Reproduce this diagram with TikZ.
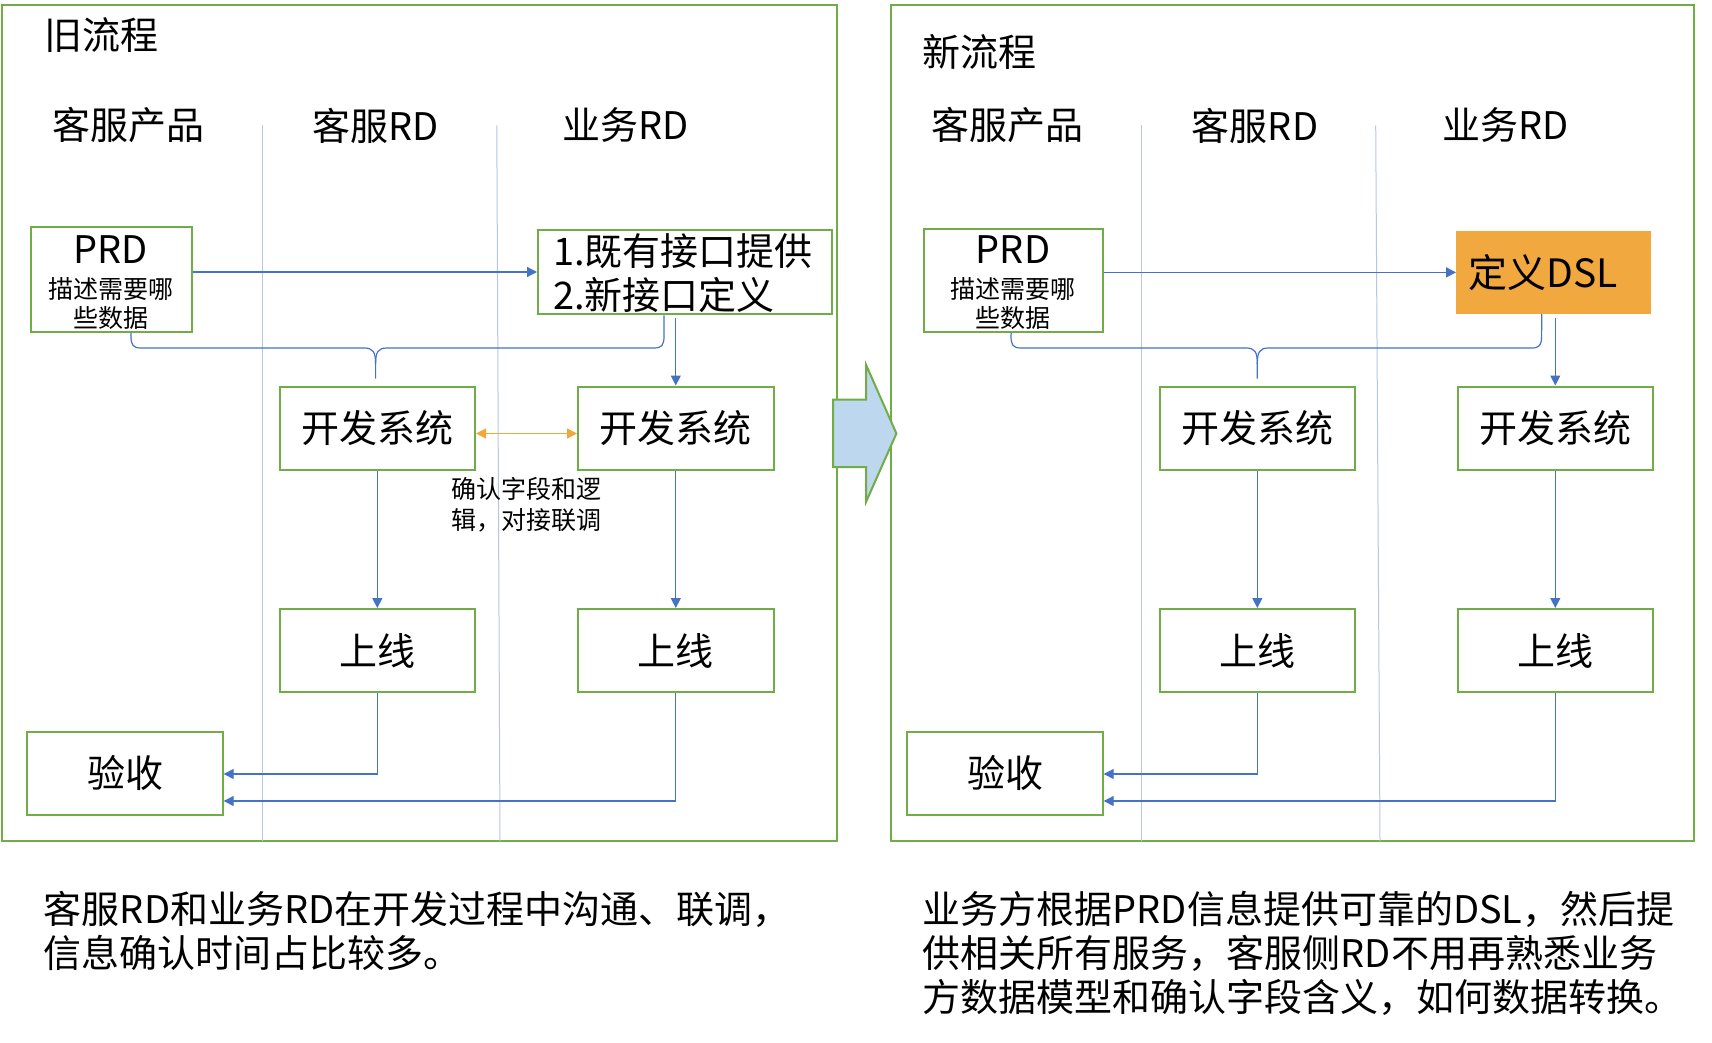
\documentclass[tikz,border=0pt]{standalone}
\usepackage{fontspec}
\setmainfont{Noto Sans CJK SC}
\usetikzlibrary{arrows.meta,calc}
\definecolor{gboxc}{HTML}{70AD47}
\definecolor{connc}{HTML}{4472C4}
\definecolor{lanec}{HTML}{B4C7E7}
\definecolor{orgc}{HTML}{F2A73C}
\definecolor{dslc}{HTML}{F0A83F}
\definecolor{arrfill}{HTML}{BDD7EE}
\newcommand\fsBig{\fontsize{38pt}{44pt}\selectfont}
\newcommand\fsSmall{\fontsize{25pt}{31pt}\selectfont}
\newcommand\fsCap{\fontsize{38pt}{44pt}\selectfont}
\tikzset{
  frame/.style={draw=gboxc,line width=2pt},
  gbox/.style={draw=gboxc,line width=2pt,inner sep=0pt,font=\fsBig},
  dslbox/.style={fill=dslc,draw=dslc,line width=1pt,inner sep=0pt},
  conn/.style={draw=connc,line width=1.2pt,-{Triangle[length=10pt,width=10pt]}},
  plain/.style={draw=connc,line width=1.2pt},
  lane/.style={draw=lanec,line width=1pt},
  txt/.style={inner sep=0pt},
  orgarrow/.style={draw=orgc,line width=1.3pt,{Triangle[length=10pt,width=10pt]}-{Triangle[length=10pt,width=10pt]}},
  bigarrow/.style={fill=arrfill,draw=gboxc,line width=2pt,line join=miter},
}
\begin{document}
\begin{tikzpicture}[x=1pt,y=-1pt]
\fill[white] (0,0) rectangle (1712,1043);
\useasboundingbox (0,0) rectangle (1712,1043);

% ---------- frames ----------
\draw[frame] (1.5,5.5) rectangle (837,841);
\draw[frame] (891,5.5) rectangle (1694,841);

% ---------- lanes ----------
\draw[lane] (262,125.5) -- (262,841);
\draw[lane] (496.8,125.5) -- (500,841);
\draw[lane] (1141,125.5) -- (1141,841);
\draw[lane] (1375.7,125.5) -- (1380,841);

% ---------- titles & headers ----------
\node[txt,font=\fsBig,anchor=west] (tL) at (44,35.5) {旧流程};
\node[txt,font=\fsBig,anchor=west] (tR) at (922,52) {新流程};
\node[txt,font=\fsBig] (hL1) at (128,125.5) {客服产品};
\node[txt,font=\fsBig] (hL2) at (375.6,125.5) {客服RD};
\node[txt,font=\fsBig] (hL3) at (625.6,125.5) {业务RD};
\node[txt,font=\fsBig] (hR1) at (1007,125.5) {客服产品};
\node[txt,font=\fsBig] (hR2) at (1255,125.5) {客服RD};
\node[txt,font=\fsBig] (hR3) at (1505.6,125.5) {业务RD};

% ---------- left panel nodes ----------
\node[gbox,minimum width=161.6pt,minimum height=105pt] (PRDL) at (111.4,279.5) {};
\node[txt,font=\fsBig] (PRDLa) at (110.5,250) {PRD};
\node[txt,font=\fsSmall] (PRDLb) at (111.4,289) {描述需要哪};
\node[txt,font=\fsSmall] (PRDLc) at (111.4,318) {些数据};

\node[gbox,minimum width=294pt,minimum height=84.5pt] (BoxA) at (685,272) {};
\node[txt,font=\fsBig,anchor=west] (BoxAa) at (553,251) {1.既有接口提供};
\node[txt,font=\fsBig,anchor=west] (BoxAb) at (553,295) {2.新接口定义};

\node[gbox,minimum width=195.5pt,minimum height=83pt] (DevL) at (377.3,428) {开发系统};
\node[gbox,minimum width=195.5pt,minimum height=83pt] (DevR) at (675.8,428) {开发系统};
\node[gbox,minimum width=195.5pt,minimum height=83pt] (UpL) at (377.3,650.5) {上线};
\node[gbox,minimum width=195.5pt,minimum height=83pt] (UpR) at (675.8,650.5) {上线};
\node[gbox,minimum width=195.4pt,minimum height=83pt] (YsL) at (125,773) {验收};

\node[txt,font=\fsSmall,anchor=north west,align=left] (noteL) at (451,477.5) {确认字段和逻\\辑，对接联调};

% ---------- left panel connectors ----------
\draw[conn] (PRDL.east |- BoxA.west) -- (BoxA.west);
\draw[plain] ([xshift=19.6pt]PRDL.south) -- (131,336) .. controls (131,345) and (133,348) .. (141,348)
  -- (364,348) .. controls (373,348) and (375.6,352) .. (375.6,364) -- ([yshift=7pt]DevL.north -| 375.6,0);
\draw[plain] ([xshift=-21pt]BoxA.south) -- (664,336) .. controls (664,345) and (662,348) .. (654,348)
  -- (387,348) .. controls (378,348) and (375.6,352) .. (375.6,364);
\draw[conn] ([yshift=-3pt]BoxA.south -| DevR.north) -- (DevR.north);
\draw[orgarrow] ($(DevL.east)+(0,5.5)$) -- ($(DevR.west)+(0,5.5)$);
\draw[conn] (DevL.south) -- (UpL.north);
\draw[conn] (DevR.south) -- (UpR.north);
\draw[conn] (UpL.south) |- ($(YsL.east)+(0,1)$);
\draw[conn] (UpR.south) |- ($(YsL.east)+(0,28)$);

% ---------- middle arrow ----------
\draw[bigarrow] (833,399.6) -- (866,399.6) -- (866,364.7) -- (896.4,433.5) -- (866,502) -- (866,467) -- (833,467) -- cycle;

% ---------- right panel nodes ----------
\node[gbox,minimum width=179pt,minimum height=103pt] (PRDR) at (1013.2,280.5) {};
\node[txt,font=\fsBig] (PRDRa) at (1013,250) {PRD};
\node[txt,font=\fsSmall] (PRDRb) at (1013.2,289) {描述需要哪};
\node[txt,font=\fsSmall] (PRDRc) at (1013.2,318) {些数据};

\node[dslbox,minimum width=194.3pt,minimum height=81.8pt] (DSL) at (1553.7,272.4) {};
\node[txt,font=\fontsize{39pt}{44pt}\selectfont,anchor=west] (DSLa) at (1468,273) {定义DSL};

\node[gbox,minimum width=195.5pt,minimum height=83pt] (DevRL) at (1257.3,428) {开发系统};
\node[gbox,minimum width=195.5pt,minimum height=83pt] (DevRR) at (1555.3,428) {开发系统};
\node[gbox,minimum width=195.5pt,minimum height=83pt] (UpRL) at (1257.3,650.5) {上线};
\node[gbox,minimum width=195.5pt,minimum height=83pt] (UpRR) at (1555.3,650.5) {上线};
\node[gbox,minimum width=195.4pt,minimum height=83pt] (YsR) at (1005,773) {验收};

% ---------- right panel connectors ----------
\draw[conn] (PRDR.east |- DSL.west) -- (DSL.west);
\draw[plain] ([xshift=-2pt]PRDR.south) -- (1011,336) .. controls (1011,345) and (1013,348) .. (1021,348)
  -- (1246,348) .. controls (1255,348) and (1257.3,352) .. (1257.3,364) -- ([yshift=7pt]DevRL.north);
\draw[plain] ([xshift=-12pt]DSL.south) -- (1541.6,336) .. controls (1541.6,345) and (1539.6,348) .. (1531.6,348)
  -- (1268.6,348) .. controls (1259.6,348) and (1257.3,352) .. (1257.3,364);
\draw[conn] ([yshift=-4pt]DSL.south -| DevRR.north) -- (DevRR.north);
\draw[conn] (DevRL.south) -- (UpRL.north);
\draw[conn] (DevRR.south) -- (UpRR.north);
\draw[conn] (UpRL.south) |- ($(YsR.east)+(0,1)$);
\draw[conn] (UpRR.south) |- ($(YsR.east)+(0,28)$);

% ---------- captions ----------
\node[txt,font=\fsCap,anchor=north west,align=left] (capL) at (43.7,891)
  {客服RD和业务RD在开发过程中沟通、联调，\\信息确认时间占比较多。};
\node[txt,font=\fsCap,anchor=north west,align=left] (capR) at (922.6,891)
  {业务方根据PRD信息提供可靠的DSL，然后提\\供相关所有服务，客服侧RD不用再熟悉业务\\方数据模型和确认字段含义，如何数据转换。};
\end{tikzpicture}
\end{document}
